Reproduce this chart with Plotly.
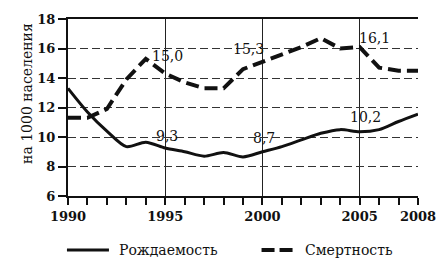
import plotly.graph_objects as go

years = list(range(1990, 2009))
birth = [13.3, 11.7, 10.4, 9.35, 9.65, 9.25, 9.0, 8.7, 8.95, 8.65, 9.0, 9.35, 9.8, 10.25, 10.5, 10.35, 10.5, 11.05, 11.55]
death = [11.3, 11.3, 11.9, 13.9, 15.3, 14.3, 13.7, 13.3, 13.3, 14.6, 15.1, 15.6, 16.1, 16.7, 16.0, 16.1, 14.7, 14.5, 14.5]
series_names = ["Рождаемость", "Смертность"]

label_text = ["15,0", "15,3", "16,1", "9,3", "8,7", "10,2"]
label_x = [1995.1, 1999.3, 2005.75, 1995.1, 2000.07, 2005.3]
label_y = [15.5, 16.0, 16.7, 10.1, 9.95, 11.35]

major_ticks = [1990, 1995, 2000, 2005, 2008]
y_ticks = [6, 8, 10, 12, 14, 16, 18]

FONT = "DejaVu Serif"
INK = "#111"

birth_line = dict(color=INK, width=3, shape="spline", smoothing=0.8)
death_line = dict(color=INK, width=4, dash="13px,6px")

fig = go.Figure()
fig.add_trace(go.Scatter(x=years, y=birth, mode="lines", name=series_names[0], line=birth_line))
fig.add_trace(go.Scatter(x=years, y=death, mode="lines", name=series_names[1], line=death_line))

for t, x, y in zip(label_text, label_x, label_y):
    fig.add_annotation(x=x, y=y, text=t, showarrow=False,
                       font=dict(family=FONT, size=14, color=INK))

fig.add_annotation(xref="paper", yref="paper", x=-0.144, y=0.58, text="на 1000 населения",
                   textangle=-90, showarrow=False, font=dict(family=FONT, size=14, color=INK))

# manual legend below the plot
leg_y = -0.305
fig.add_shape(type="line", xref="paper", yref="paper", x0=-0.003, x1=0.117, y0=leg_y, y1=leg_y,
              line=dict(color=INK, width=3))
fig.add_shape(type="line", xref="paper", yref="paper", x0=0.553, x1=0.653, y0=leg_y, y1=leg_y,
              line=dict(color=INK, width=4, dash="13px,5px"))
fig.add_annotation(xref="paper", yref="paper", x=0.139, y=leg_y, xanchor="left", yanchor="middle",
                   text=series_names[0], showarrow=False, font=dict(family=FONT, size=14, color=INK))
fig.add_annotation(xref="paper", yref="paper", x=0.672, y=leg_y, xanchor="left", yanchor="middle",
                   text=series_names[1], showarrow=False, font=dict(family=FONT, size=14, color=INK))

tick_font = dict(family=FONT, size=13, color=INK, weight="bold")

fig.update_layout(
    width=448, height=267,
    margin=dict(l=68, r=20, t=14, b=71),
    paper_bgcolor="white", plot_bgcolor="white",
    showlegend=False,
    font=dict(family=FONT, size=14, color=INK),
)
fig.update_xaxes(range=[1990, 2008], tickvals=major_ticks, ticktext=[str(v) for v in major_ticks],
                 ticks="outside", ticklen=7, tickwidth=1.5, tickcolor=INK,
                 showgrid=True, gridcolor="#222", gridwidth=1,
                 showline=True, linecolor=INK, linewidth=2, mirror=True,
                 zeroline=False,
                 minor=dict(dtick=1, tick0=1990, ticks="outside", ticklen=7, tickwidth=1.5,
                            tickcolor=INK, showgrid=False),
                 tickfont=tick_font)
fig.update_yaxes(range=[6, 18], tickvals=y_ticks, ticks="outside", ticklen=8, tickwidth=1.5,
                 tickcolor=INK, showgrid=True, gridcolor="#333", gridwidth=1, griddash="8px,4px",
                 showline=True, linecolor=INK, linewidth=2, zeroline=False,
                 tickfont=tick_font)

fig.write_html("out.html")
